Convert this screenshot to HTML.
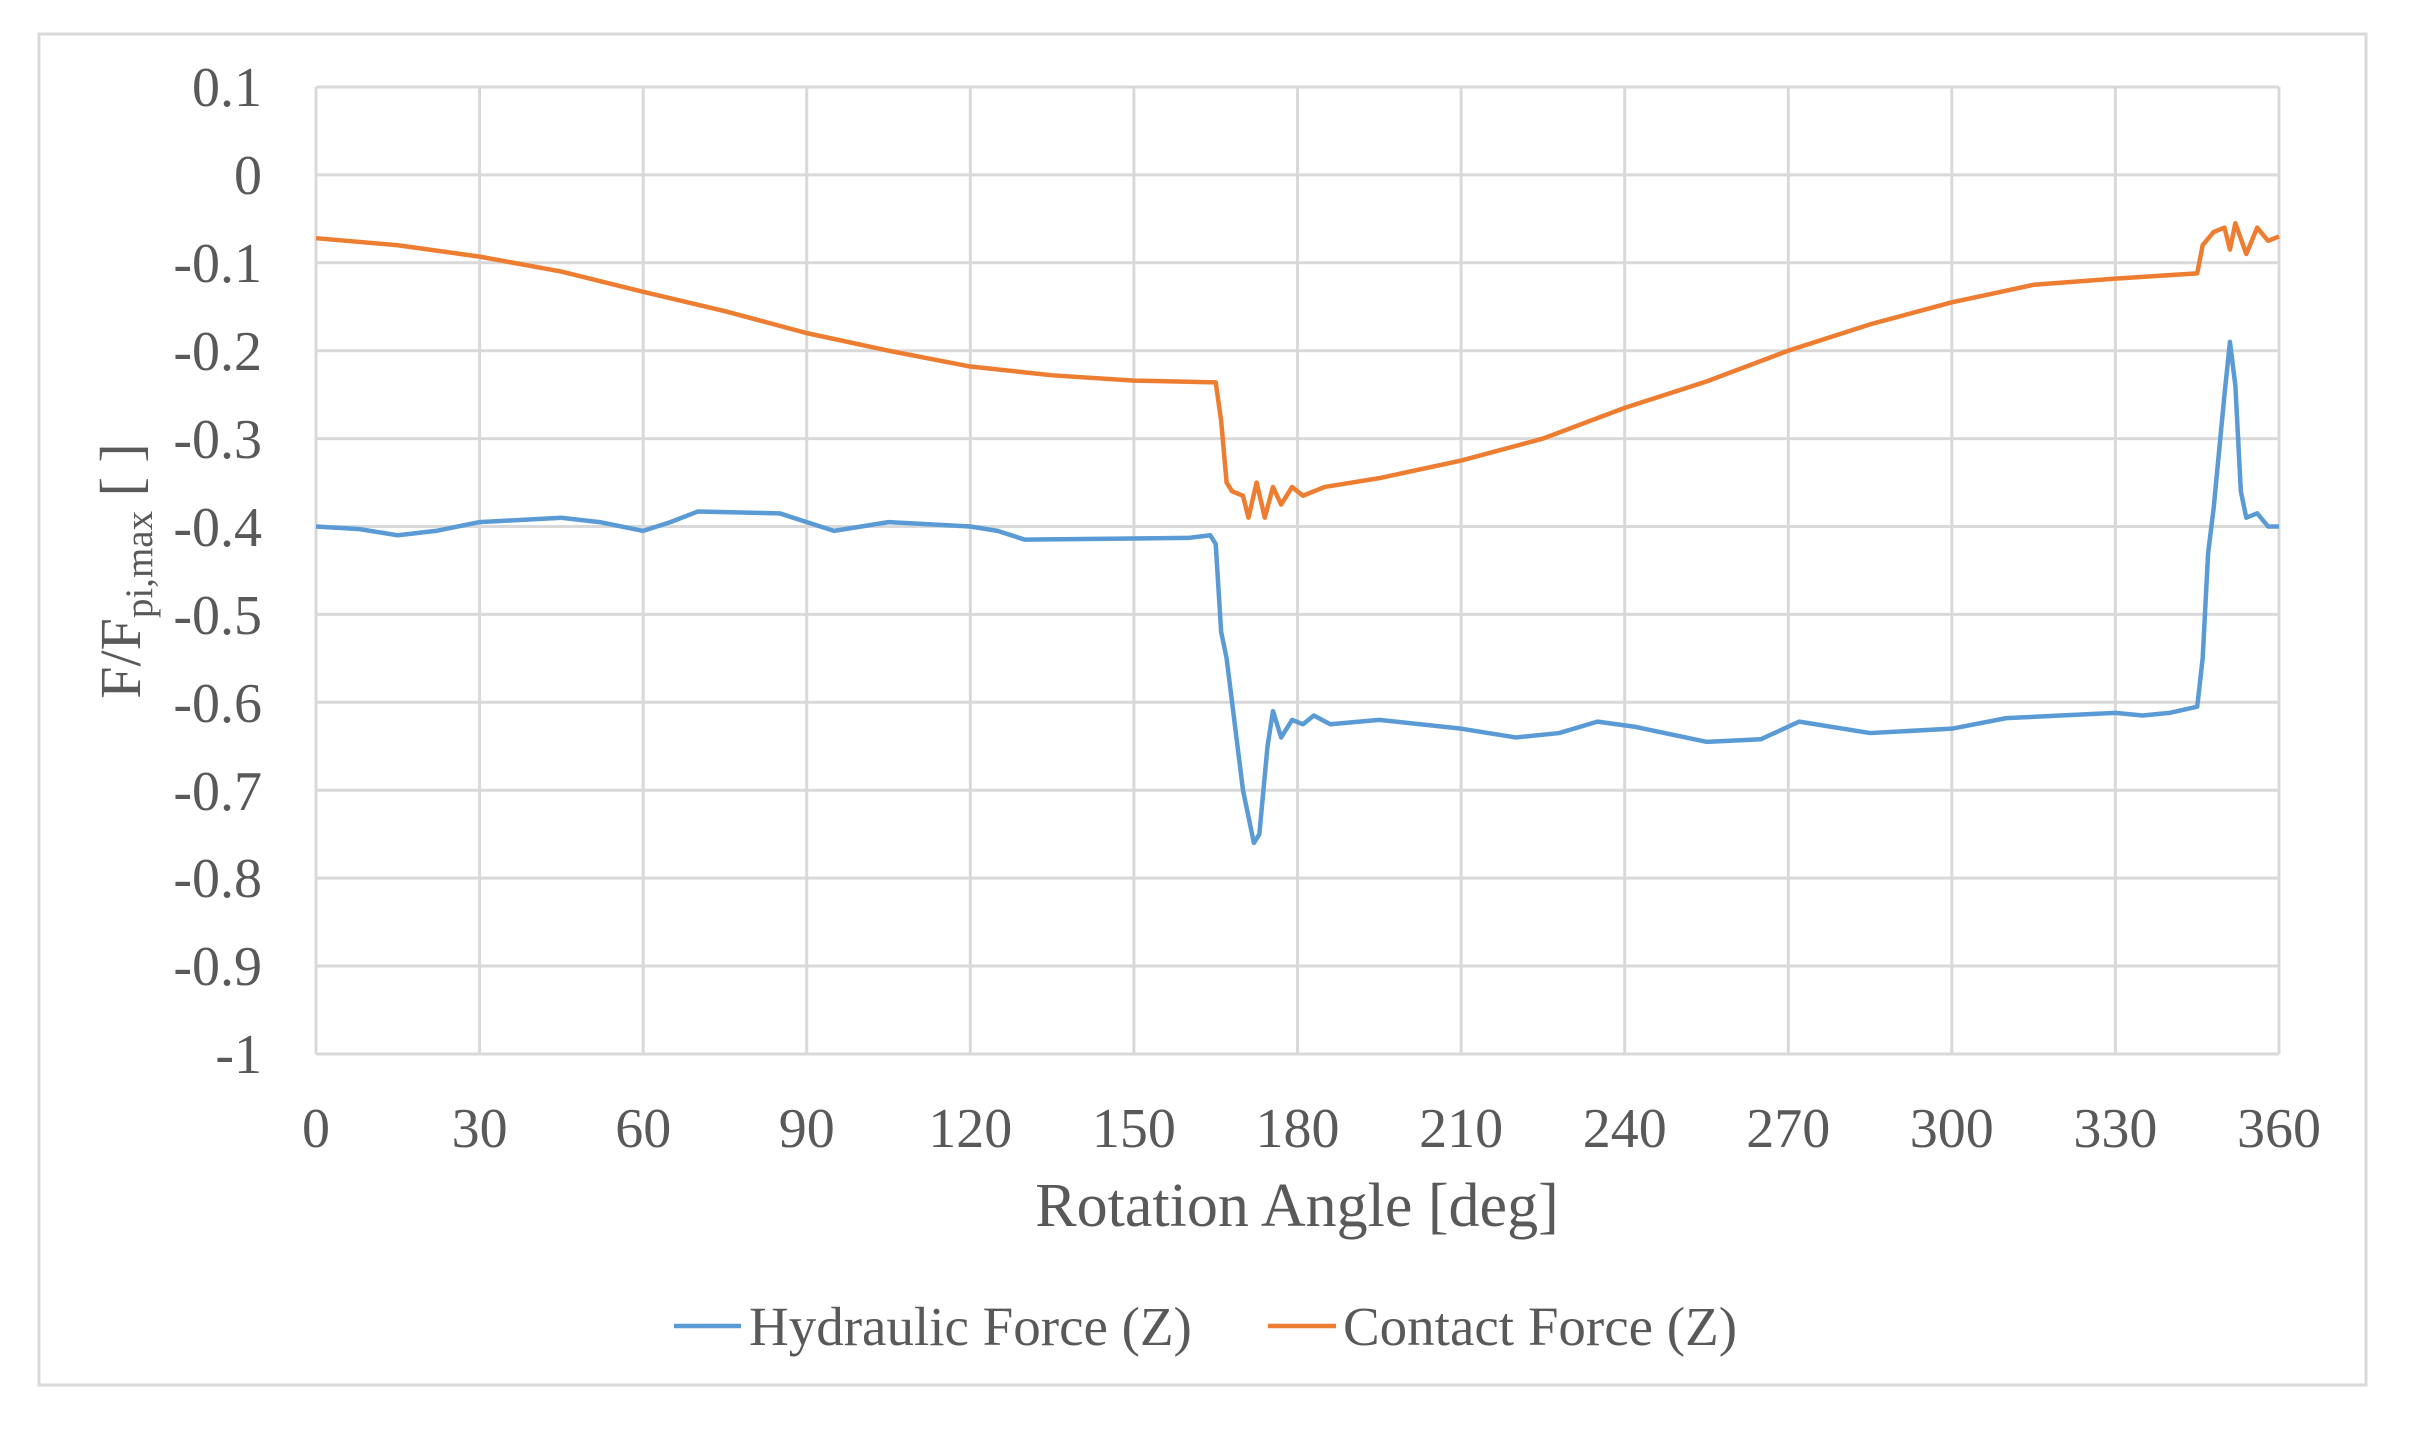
<!DOCTYPE html>
<html><head><meta charset="utf-8"><style>
html,body{margin:0;padding:0;background:#fff;}
svg{display:block;}
text{font-family:"Liberation Serif",serif;fill:#595959;}
</style></head><body>
<svg width="2431" height="1433" viewBox="0 0 2431 1433" xmlns="http://www.w3.org/2000/svg">
<rect x="39" y="34" width="2327" height="1351" fill="#fff" stroke="#d9d9d9" stroke-width="3"/>
<g stroke="#d9d9d9" stroke-width="3">
<line x1="316" y1="87" x2="2279" y2="87"/>
<line x1="316" y1="174.9" x2="2279" y2="174.9"/>
<line x1="316" y1="262.8" x2="2279" y2="262.8"/>
<line x1="316" y1="350.7" x2="2279" y2="350.7"/>
<line x1="316" y1="438.6" x2="2279" y2="438.6"/>
<line x1="316" y1="526.5" x2="2279" y2="526.5"/>
<line x1="316" y1="614.4" x2="2279" y2="614.4"/>
<line x1="316" y1="702.3" x2="2279" y2="702.3"/>
<line x1="316" y1="790.2" x2="2279" y2="790.2"/>
<line x1="316" y1="878.1" x2="2279" y2="878.1"/>
<line x1="316" y1="966" x2="2279" y2="966"/>
<line x1="316" y1="1054" x2="2279" y2="1054"/>
<line x1="316" y1="87" x2="316" y2="1054"/>
<line x1="479.6" y1="87" x2="479.6" y2="1054"/>
<line x1="643.2" y1="87" x2="643.2" y2="1054"/>
<line x1="806.7" y1="87" x2="806.7" y2="1054"/>
<line x1="970.3" y1="87" x2="970.3" y2="1054"/>
<line x1="1133.9" y1="87" x2="1133.9" y2="1054"/>
<line x1="1297.5" y1="87" x2="1297.5" y2="1054"/>
<line x1="1461.1" y1="87" x2="1461.1" y2="1054"/>
<line x1="1624.7" y1="87" x2="1624.7" y2="1054"/>
<line x1="1788.3" y1="87" x2="1788.3" y2="1054"/>
<line x1="1951.8" y1="87" x2="1951.8" y2="1054"/>
<line x1="2115.4" y1="87" x2="2115.4" y2="1054"/>
<line x1="2279" y1="87" x2="2279" y2="1054"/>
</g>
<g font-size="56" text-anchor="end">
<text x="262" y="106">0.1</text>
<text x="262" y="194">0</text>
<text x="262" y="282">-0.1</text>
<text x="262" y="370">-0.2</text>
<text x="262" y="458">-0.3</text>
<text x="262" y="546">-0.4</text>
<text x="262" y="634">-0.5</text>
<text x="262" y="722">-0.6</text>
<text x="262" y="810">-0.7</text>
<text x="262" y="897">-0.8</text>
<text x="262" y="985">-0.9</text>
<text x="262" y="1073">-1</text>
</g>
<g font-size="56" text-anchor="middle">
<text x="316" y="1147">0</text>
<text x="479.6" y="1147">30</text>
<text x="643.2" y="1147">60</text>
<text x="806.7" y="1147">90</text>
<text x="970.3" y="1147">120</text>
<text x="1133.9" y="1147">150</text>
<text x="1297.5" y="1147">180</text>
<text x="1461.1" y="1147">210</text>
<text x="1624.7" y="1147">240</text>
<text x="1788.3" y="1147">270</text>
<text x="1951.8" y="1147">300</text>
<text x="2115.4" y="1147">330</text>
<text x="2279" y="1147">360</text>
</g>
<text x="1297" y="1226" font-size="62" text-anchor="middle">Rotation Angle [deg]</text>
<text transform="translate(140,571) rotate(-90)" font-size="58" text-anchor="middle">F/F<tspan font-size="39" dy="12">pi,max</tspan><tspan dy="-12"> [ ]</tspan></text>
<g transform="translate(316,174.9) scale(5.4528,-879)" fill="none" stroke-linejoin="round">
<polyline vector-effect="non-scaling-stroke" stroke="#5b9bd5" stroke-width="4.5" points="0,-0.4 8,-0.403 15,-0.41 22,-0.405 30,-0.395 45,-0.39 52,-0.395 60,-0.405 65,-0.395 70,-0.383 85,-0.385 90,-0.395 95,-0.405 100,-0.4 105,-0.395 120,-0.4 125,-0.405 130,-0.415 160,-0.413 164,-0.41 165,-0.42 166,-0.52 167,-0.55 168,-0.6 170,-0.7 172,-0.76 173,-0.75 174.5,-0.65 175.5,-0.61 177,-0.64 179,-0.62 181,-0.625 183,-0.615 186,-0.625 195,-0.62 210,-0.63 220,-0.64 228,-0.635 235,-0.622 242,-0.628 255,-0.645 265,-0.642 272,-0.622 285,-0.635 300,-0.63 310,-0.618 330,-0.612 335,-0.615 340,-0.612 345,-0.605 346,-0.55 347,-0.43 348,-0.38 350,-0.25 351,-0.19 352,-0.24 353,-0.36 354,-0.39 356,-0.385 358,-0.4 360,-0.4"/>
<polyline vector-effect="non-scaling-stroke" stroke="#ed7d31" stroke-width="4.5" points="0,-0.072 15,-0.08 30,-0.093 45,-0.11 60,-0.133 75,-0.155 90,-0.18 105,-0.2 120,-0.218 135,-0.228 150,-0.234 165,-0.236 166,-0.28 167,-0.35 168,-0.36 170,-0.365 171,-0.39 172.5,-0.35 174,-0.39 175.5,-0.355 177,-0.375 179,-0.355 181,-0.365 185,-0.355 195,-0.345 210,-0.325 225,-0.3 240,-0.265 255,-0.235 270,-0.2 285,-0.17 300,-0.145 315,-0.125 330,-0.118 345,-0.112 346,-0.08 348,-0.065 350,-0.06 351,-0.085 352,-0.055 354,-0.09 356,-0.06 358,-0.075 360,-0.07"/>
</g>
<line x1="674" y1="1326" x2="741" y2="1326" stroke="#5b9bd5" stroke-width="4.5"/>
<text x="749" y="1345" font-size="55">Hydraulic Force (Z)</text>
<line x1="1268" y1="1326" x2="1336" y2="1326" stroke="#ed7d31" stroke-width="4.5"/>
<text x="1343" y="1345" font-size="55">Contact Force (Z)</text>
</svg>
</body></html>
